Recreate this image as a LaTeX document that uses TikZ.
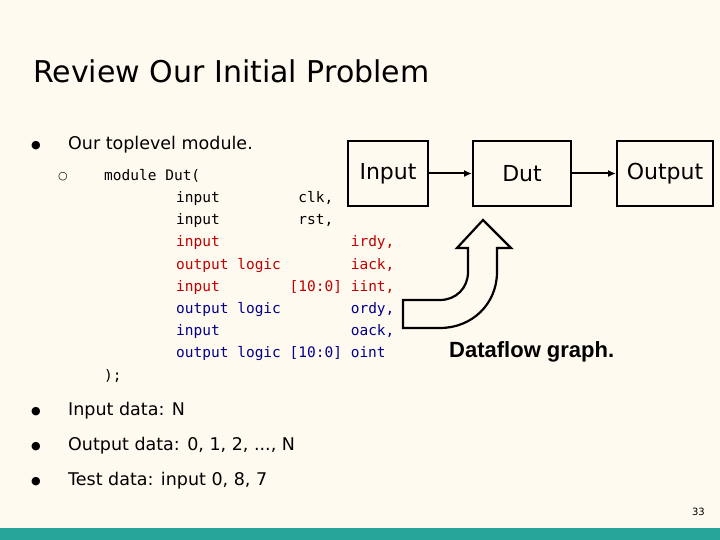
\documentclass[tikz,border=0pt]{standalone}
\usepackage{fontspec}
\setmainfont{DejaVu Sans}
\setmonofont{DejaVu Sans Mono}
\newfontfamily\arialfont{Liberation Sans}
\usetikzlibrary{arrows.meta}
\definecolor{paper}{HTML}{FFFAF0}
\definecolor{barteal}{HTML}{26A69A}
\definecolor{sigred}{HTML}{C00000}
\definecolor{sigblue}{HTML}{00008B}

\tikzset{
    blockbox/.style={draw, line width=2pt, minimum width=80pt, minimum height=65pt, font=\fontsize{22}{26}\selectfont},
    codeline/.style={anchor=base west, inner sep=0pt, font=\ttfamily\fontsize{14.5}{16}\selectfont},
    bullettext/.style={anchor=base west, inner sep=0pt, font=\fontsize{17.5}{20}\selectfont},
    bulletdot/.style={anchor=base west, inner sep=0pt, font=\fontsize{11}{12}\selectfont}
}

\begin{document}
\begin{tikzpicture}[x=1pt, y=-1pt]

    \fill[paper] (0,0) rectangle (720,540);
    \fill[barteal] (0,528) rectangle (720,540);

    \node[anchor=base west, inner sep=0pt, font=\fontsize{30}{34}\selectfont] (title) at (33,83) {Review Our Initial Problem};

    \node[bulletdot] (b1dot) at (31,149) {●};
    \node[bullettext] (b1) at (68,150) {Our toplevel module.};
    \node[bulletdot] (b2dot) at (58,180) {○};

    % module header
    \node[codeline] (m0) at (104,181) {module Dut(};
    \node[codeline] (m1) at (176,203) {input\ \ \ \ \ \ \ \ \ clk,};
    \node[codeline] (m2) at (176,225) {input\ \ \ \ \ \ \ \ \ rst,};
    \node[codeline, text=sigred] (m3) at (176,247) {input\ \ \ \ \ \ \ \ \ \ \ \ \ \ \ irdy,};
    \node[codeline, text=sigred] (m4) at (176,269) {output logic\ \ \ \ \ \ \ \ iack,};
    \node[codeline, text=sigred] (m5) at (176,291) {input\ \ \ \ \ \ \ \ [10:0] iint,};
    \node[codeline, text=sigblue] (m6) at (176,313) {output logic\ \ \ \ \ \ \ \ ordy,};
    \node[codeline, text=sigblue] (m7) at (176,335) {input\ \ \ \ \ \ \ \ \ \ \ \ \ \ \ oack,};
    \node[codeline, text=sigblue] (m8) at (176,357) {output logic [10:0] oint};
    \node[codeline] (m9) at (104,380) {);};

    % dataflow graph
    \node[blockbox, fill=paper] (inp) at (388,173.5) {Input};
    \node[blockbox, minimum width=98pt] (dut) at (522,173.5) {Dut};
    \node[blockbox, minimum width=96pt] (outp) at (665,173.5) {Output};
    \draw[line width=2pt, -{Latex[length=8pt, width=7pt]}] (inp) -- (dut);
    \draw[line width=2pt, -{Latex[length=8pt, width=7pt]}] (dut) -- (outp);

    \draw[line width=2.2pt, line join=miter] (403,300) -- (440,300)
        .. controls (456,300) and (468,288) .. (468,272) -- (468,248) -- (457,248)
        -- (483,220) -- (511,248) -- (497,248) -- (497,272)
        .. controls (497,304) and (472,328) .. (440,328) -- (403,328) -- cycle;

    \node[anchor=base west, inner sep=0pt, font=\arialfont\bfseries\fontsize{22}{26}\selectfont] (cap) at (449,357) {Dataflow graph.};

    \node[bulletdot] (b3dot) at (31,414) {●};
    \node[bullettext] (b3) at (68,415) {Input data: N};
    \node[bulletdot] (b4dot) at (31,449) {●};
    \node[bullettext] (b4) at (68,450) {Output data: 0, 1, 2, ..., N};
    \node[bulletdot] (b5dot) at (31,484) {●};
    \node[bullettext] (b5) at (68,485) {Test data: input 0, 8, 7};

    \node[anchor=base east, inner sep=0pt, font=\fontsize{10}{12}\selectfont] (page) at (705,515) {33};

\end{tikzpicture}
\end{document}
